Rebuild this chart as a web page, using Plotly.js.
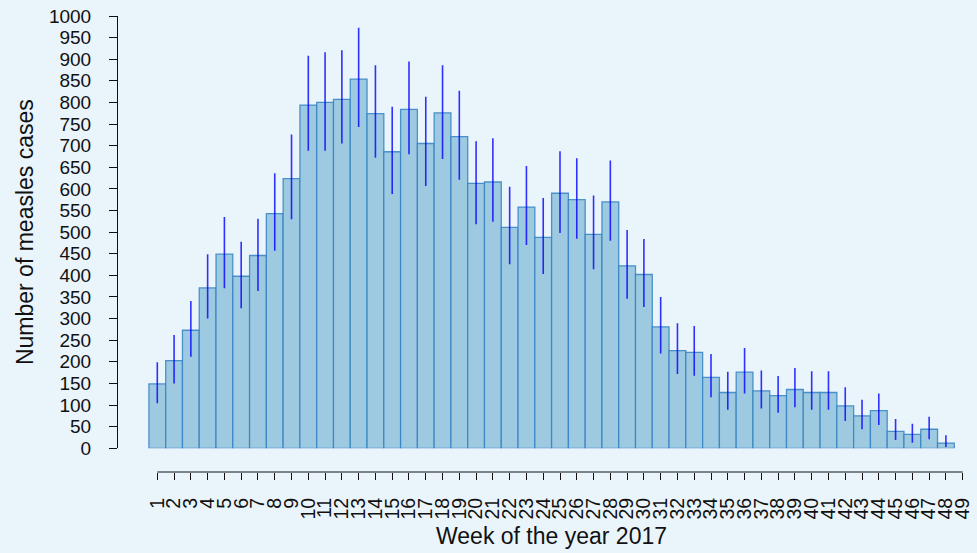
<!DOCTYPE html>
<html>
<head>
<meta charset="utf-8">
<script src="https://cdn.plot.ly/plotly-3.0.1.min.js"></script>
<style>
  html, body { margin: 0; padding: 0; background: #eaf4fb; }
  #plot { width: 977px; height: 553px; }
</style>
</head>
<body>
<div id="plot"></div>
<script>
(function(){
  // ---------- Data ----------
  const weeks = Array.from({length: 48}, (_, i) => i + 1);
  const cases = [149, 203, 273, 371, 449, 398, 446, 543, 624, 794, 800, 807, 854, 774, 686, 784,
                 705, 776, 721, 613, 616, 511, 558, 488, 590, 575, 495, 570, 422, 402, 281, 226,
                 222, 164, 129, 176, 133, 122, 136, 129, 129, 98, 75, 87, 39, 32, 44, 12];
  const lower = [104, 150, 212, 300, 370, 324, 364, 457, 530, 688, 688, 705, 743, 672, 588, 680,
                 607, 669, 621, 518, 524, 426, 470, 403, 498, 485, 414, 480, 346, 327, 219, 172,
                 168, 118, 89, 127, 92, 82, 95, 89, 89, 63, 44, 54, 19, 13, 21, 3];
  const upper = [199, 262, 341, 449, 535, 478, 531, 636, 726, 908, 916, 921, 973, 886, 790, 895,
                 813, 886, 827, 710, 717, 605, 653, 579, 687, 671, 585, 666, 505, 484, 350, 289,
                 283, 218, 177, 232, 180, 167, 186, 178, 178, 141, 112, 127, 68, 57, 73, 30];
  const xTicks = Array.from({length: 49}, (_, i) => i + 1);
  const yTicks = Array.from({length: 21}, (_, i) => i * 50);

  // ---------- Style ----------
  const bg = '#eaf4fb';
  const font = '"Liberation Sans", Arial, Helvetica, sans-serif';
  const ink = '#111111';

  const bars = {
    type: 'bar', x: weeks, y: cases, width: 1,
    marker: { color: '#9ecae1', line: { color: 'rgba(52,130,195,0.85)', width: 1.3 } },
    error_y: {
      type: 'data', symmetric: false,
      array: upper.map((u, i) => u - cases[i]),
      arrayminus: lower.map((l, i) => cases[i] - l),
      color: 'rgba(0,0,255,0.8)', thickness: 1.6, width: 0
    },
    hoverinfo: 'x+y', showlegend: false
  };

  const layout = {
    width: 977, height: 553,
    paper_bgcolor: bg, plot_bgcolor: bg,
    font: { family: font, color: ink, size: 19 },
    margin: { l: 118, r: 12, t: 16, b: 81 },
    bargap: 0,
    showlegend: false,
    xaxis: {
      // R style: axis line only from first to last tick (drawn as a shape below)
      range: [-1.342, 49.137], domain: [0, 1],
      anchor: 'free', position: 0,
      showline: false, showgrid: false, zeroline: false,
      ticks: 'outside', ticklen: 7, tickwidth: 1, tickcolor: ink,
      tickmode: 'array', tickvals: xTicks, ticktext: xTicks.map(String),
      tickangle: -90, tickfont: { size: 19.5 }, ticklabelstandoff: 10
    },
    yaxis: {
      domain: [0.052, 1], range: [0, 1000],
      showline: true, linecolor: ink, linewidth: 1,
      showgrid: false, zeroline: false,
      ticks: 'outside', ticklen: 8, tickwidth: 1, tickcolor: ink,
      tickmode: 'array', tickvals: yTicks, ticktext: yTicks.map(String),
      tickfont: { size: 19 }, ticklabelstandoff: 14,
      title: { text: 'Number of measles cases', font: { size: 23 }, standoff: 8 }
    },
    shapes: [{
      type: 'line', xref: 'x', yref: 'paper',
      x0: xTicks[0], x1: xTicks[xTicks.length - 1], y0: 0, y1: 0,
      line: { color: ink, width: 1 }
    }],
    annotations: [{
      text: 'Week of the year 2017', xref: 'paper', yref: 'paper',
      x: 0.512, y: -0.140, xanchor: 'center', yanchor: 'middle',
      showarrow: false, font: { size: 23, color: ink }
    }]
  };

  Plotly.newPlot('plot', [bars], layout, { displayModeBar: false, staticPlot: true });
})();
</script>
</body>
</html>
